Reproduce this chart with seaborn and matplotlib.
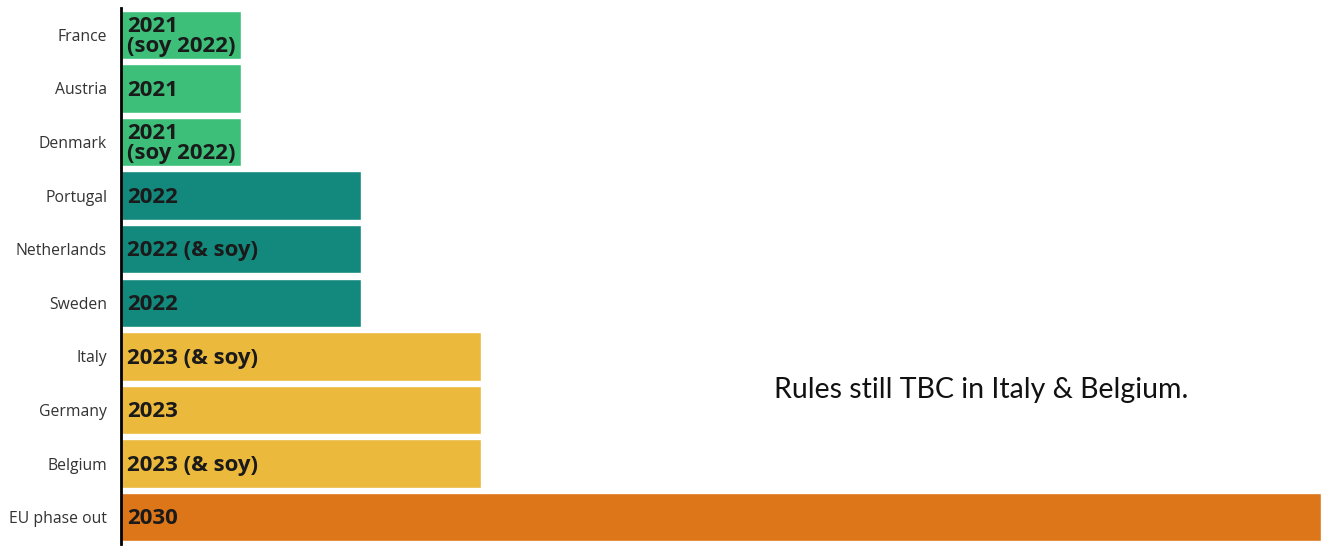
import seaborn as sns
import matplotlib.pyplot as plt
import pandas as pd

countries = ['France', 'Austria', 'Denmark', 'Portugal', 'Netherlands', 'Sweden',
             'Italy', 'Germany', 'Belgium', 'EU phase out']
years = [2021, 2021, 2021, 2022, 2022, 2022, 2023, 2023, 2023, 2030]
labels = ['2021\n(soy 2022)', '2021', '2021\n(soy 2022)', '2022', '2022 (& soy)', '2022',
          '2023 (& soy)', '2023', '2023 (& soy)', '2030']
palette = {2021: '#3dbf7a', 2022: '#13887d', 2023: '#ebb93b', 2030: '#dd7519'}
note = 'Rules still TBC in Italy & Belgium.'

df = pd.DataFrame({'country': countries, 'year': years, 'label': labels})
df['length'] = df['year'] - 2020

sns.set_style('white')
plt.rcParams['font.family'] = ['Open Sans', 'DejaVu Sans']

fig = plt.figure(figsize=(13.22, 5.47), dpi=100)
ax = fig.add_axes([121 / 1322, 3 / 547, 1200 / 1322, 536 / 547])

sns.barplot(data=df, x='length', y='country', hue='year', palette=palette,
            dodge=False, width=0.9, legend=False, ax=ax, saturation=1)

for i, row in df.iterrows():
    ax.text(0.05, i + 0.03, row['label'], va='center', ha='left', fontsize=16,
            fontweight='bold', color='#1a1a1a', linespacing=0.95)

ax.text(0.742, 0.287, note, transform=fig.transFigure, fontsize=20.5,
        family='Lato', color='#111111', va='center', ha='center')

ax.set_xlim(0, 10)
ax.set_ylim(9.5, -0.5)
ax.set_xlabel('')
ax.set_ylabel('')
ax.set_xticks([])
ax.tick_params(axis='y', length=0, labelsize=11.3, labelcolor='#333333', pad=10)
sns.despine(ax=ax, top=True, right=True, bottom=True)
ax.spines['left'].set_color('black')
ax.spines['left'].set_linewidth(2)

fig.savefig('out.png', dpi=100)
